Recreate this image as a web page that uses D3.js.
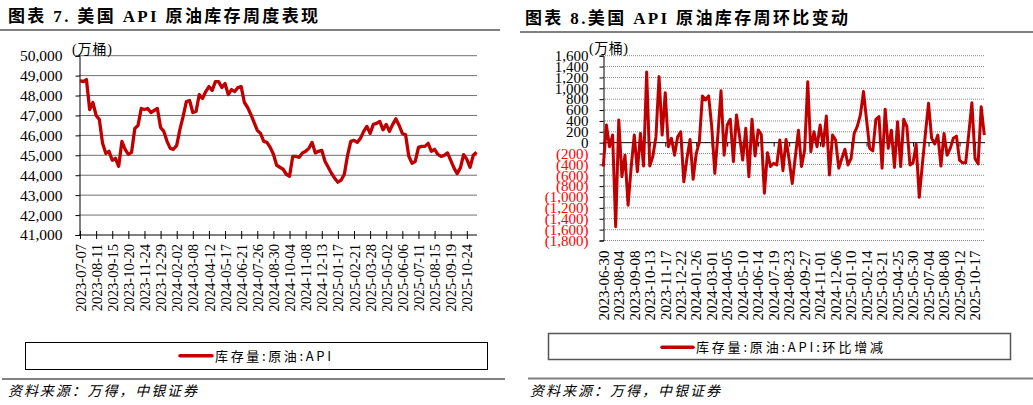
<!DOCTYPE html>
<html><head><meta charset="utf-8">
<script src="https://cdn.jsdelivr.net/npm/d3@7"></script>
<style>
body{margin:0;background:#fff;}
svg{display:block;}
</style></head><body>
<svg id="c" width="1033" height="405"></svg>
<script>
// ---------- data ----------
const leftStart = "2023-07-07";
const rightStart = "2023-06-30";
// 库存量:原油:API (万桶), weekly
const inventory = [
48750,48700,48800,47300,47650,47000,46800,45600,45100,45200,
44750,44850,44450,45700,45300,45050,45150,46350,46500,47350,
47300,47350,47150,47250,47350,46400,46200,45700,45350,45300,
45500,46300,46950,47700,47750,47150,47200,48050,47850,48200,
48450,48250,48700,48700,48400,48600,48050,48300,48200,48400,
48450,47650,47400,47050,46650,46250,46100,45700,45650,45400,
45050,44500,44400,44300,44050,43950,44950,44950,44900,45120,
45200,45350,45650,45120,45200,45250,44700,44400,44100,43850,
43650,43750,44050,45000,45700,45750,45650,45850,46200,46450,
46100,46550,46600,46700,46280,46550,46200,46550,46830,46500,
46100,46030,44950,44600,44700,45400,45450,45450,45600,45200,
45300,45050,44950,45000,45120,44750,44370,44080,44370,45030,
44800,44400,45000,45150
];
// 库存量:原油:API:环比增减 (万桶), weekly
const weeklyChange = [
-440,325,-75,140,-1545,415,-625,-230,-1150,-450,
140,-535,170,-430,1300,-430,-250,110,1215,140,
920,-75,80,-230,110,200,-720,-290,60,-675,
-200,10,860,785,860,300,-565,150,955,-230,
325,430,-350,510,110,-320,265,-625,430,-245,
235,150,-930,-185,-440,-380,-410,50,-515,60,
-320,-750,-260,230,-440,-135,1120,-165,200,-75,
325,-60,490,-595,140,50,-470,-290,-120,-410,
-290,170,300,510,940,415,-105,-150,430,480,
-470,615,-105,230,-455,385,-440,430,295,-410,
-370,-30,-1005,-400,170,725,80,-25,140,-430,
170,-230,-105,80,120,-320,-370,-370,170,735,
-290,-390,660,140
];
const leftTickLabels = ["2023-07-07","2023-08-11","2023-09-15","2023-10-20","2023-11-24","2023-12-29",
"2024-02-02","2024-03-08","2024-04-12","2024-05-17","2024-06-21","2024-07-26","2024-08-30",
"2024-10-04","2024-11-08","2024-12-13","2025-01-17","2025-02-21","2025-03-28","2025-05-02",
"2025-06-06","2025-07-11","2025-08-15","2025-09-19","2025-10-24"];
const rightTickLabels = ["2023-06-30","2023-08-04","2023-09-08","2023-10-13","2023-11-17","2023-12-22",
"2024-01-26","2024-03-01","2024-04-05","2024-05-10","2024-06-14","2024-07-19","2024-08-23",
"2024-09-27","2024-11-01","2024-12-06","2025-01-10","2025-02-14","2025-03-21","2025-04-25",
"2025-05-30","2025-07-04","2025-08-08","2025-09-12","2025-10-17"];
const leftYTicks = [41000,42000,43000,44000,45000,46000,47000,48000,49000,50000];
const rightYTicks = [-1800,-1600,-1400,-1200,-1000,-800,-600,-400,-200,0,200,400,600,800,1000,1200,1400,1600];

const leftTitle = "图表 7. 美国 API 原油库存周度表现";
const rightTitle = "图表 8.美国 API 原油库存周环比变动";
const unitLabel = "(万桶)";
const leftLegend = "库存量:原油:API";
const rightLegend = "库存量:原油:API:环比增减";
const sourceText = "资料来源：万得，中银证券";

// ---------- setup ----------
const FONT = "'Liberation Serif','Noto Sans CJK SC',serif";
const CJK = "'Noto Sans CJK SC',sans-serif";
const RED = "#C00000";
const svg = d3.select("#c");
const parse = d3.timeParse("%Y-%m-%d");
const leftDates = inventory.map((_, i) => d3.timeDay.offset(parse(leftStart), 7 * i));
const rightDates = weeklyChange.map((_, i) => d3.timeDay.offset(parse(rightStart), 7 * i));

// titles
function title(x, y, txt, len) {
  svg.append("text").attr("x", x).attr("y", y).attr("font-family", FONT)
    .attr("font-weight", "bold").attr("font-size", 17).attr("fill", "#000")
    .attr("textLength", len).attr("lengthAdjust", "spacing").text(txt);
}
title(8, 21.5, leftTitle, 310);
title(525, 23.5, rightTitle, 323);
svg.append("line").attr("x1", 0).attr("x2", 500).attr("y1", 30).attr("y2", 30).attr("stroke", "#808080").attr("stroke-width", 2);
svg.append("line").attr("x1", 520).attr("x2", 1033).attr("y1", 32).attr("y2", 32).attr("stroke", "#808080").attr("stroke-width", 2);

// ---------- left chart ----------
{
  const x = d3.scaleTime().domain([leftDates[0], leftDates[leftDates.length - 1]]).range([80, 476.5]);
  const y = d3.scaleLinear().domain([41000, 50000]).range([235, 55.7]);
  const g = svg.append("g");
  const fmt = d3.format(",");
  // grid
  g.selectAll("line.grid").data(leftYTicks.filter(t => t !== 41000)).join("line")
    .attr("x1", 79).attr("x2", 477).attr("y1", d => y(d)).attr("y2", d => y(d))
    .attr("stroke", "#707070").attr("stroke-width", 1);
  // y axis
  const ya = d3.axisLeft(y).tickValues(leftYTicks).tickSize(4).tickFormat(fmt);
  const yg = g.append("g").attr("transform", "translate(79.5,0)").call(ya);
  yg.select(".domain").attr("stroke", "#000");
  yg.selectAll(".tick line").attr("stroke", "#000");
  yg.selectAll(".tick text").attr("font-family", FONT).attr("font-size", 15.5).attr("fill", "#000").attr("x", -17);
  // x axis
  const xa = d3.axisBottom(x).tickValues(leftTickLabels.map(parse)).tickSize(4).tickFormat(d3.timeFormat("%Y-%m-%d"));
  const xg = g.append("g").attr("transform", "translate(0,235)").call(xa);
  xg.select(".domain").attr("d", "M79,0H477").attr("stroke", "#000");
  xg.selectAll(".tick line").attr("y1", -4).attr("y2", 4).attr("stroke", "#000");
  xg.selectAll(".tick text").attr("font-family", FONT).attr("font-size", 14.5).attr("fill", "#000")
    .attr("text-anchor", "end").attr("transform", "rotate(-90)").attr("x", -9).attr("y", 0).attr("dy", "0.35em");
  // unit
  g.append("text").attr("x", 72).attr("y", 53.5).attr("font-family", FONT).attr("font-size", 14)
    .attr("textLength", 40).attr("lengthAdjust", "spacing").text(unitLabel);
  // line
  g.append("path").datum(inventory)
    .attr("d", d3.line().x((d, i) => x(leftDates[i])).y(d => y(d)))
    .attr("fill", "none").attr("stroke", RED).attr("stroke-width", 3.3).attr("stroke-linejoin", "round");
  // legend
  g.append("rect").attr("x", 25.5).attr("y", 342.5).attr("width", 462).attr("height", 27)
    .attr("fill", "none").attr("stroke", "#000").attr("stroke-width", 1);
  g.append("line").attr("x1", 180).attr("x2", 212).attr("y1", 355.7).attr("y2", 355.7)
    .attr("stroke", RED).attr("stroke-width", 3.5).attr("stroke-linecap", "round");
  g.append("text").attr("x", 215).attr("y", 360.5).attr("font-family", CJK).attr("font-size", 13)
    .attr("textLength", 116).attr("lengthAdjust", "spacing").text(leftLegend);
  // footer
  g.append("line").attr("x1", 2).attr("x2", 505).attr("y1", 379).attr("y2", 379).attr("stroke", "#808080").attr("stroke-width", 2);
  g.append("text").attr("x", 8).attr("y", 396).attr("font-family", CJK).attr("font-size", 14).attr("font-style", "italic")
    .attr("textLength", 189).attr("lengthAdjust", "spacing").text(sourceText);
}

// ---------- right chart ----------
{
  const x = d3.scaleTime().domain([rightDates[0], rightDates[rightDates.length - 1]]).range([603.3, 984.3]);
  const y = d3.scaleLinear().domain([-1800, 1600]).range([240.5, 55.7]);
  const g = svg.append("g");
  const fmt = d => d < 0 ? "(" + d3.format(",")(-d) + ")" : d3.format(",")(d);
  // grid
  g.selectAll("line.grid").data(rightYTicks.filter(t => t !== 0)).join("line")
    .attr("x1", 603).attr("x2", 985).attr("y1", d => y(d)).attr("y2", d => y(d))
    .attr("stroke", "#888").attr("stroke-width", 1).attr("stroke-dasharray", "1,1");
  // y axis
  const ya = d3.axisLeft(y).tickValues(rightYTicks).tickSize(4).tickFormat(fmt);
  const yg = g.append("g").attr("transform", "translate(603.5,0)").call(ya);
  yg.select(".domain").attr("stroke", "#000");
  yg.selectAll(".tick line").attr("stroke", "#000");
  yg.selectAll(".tick text").attr("font-family", FONT).attr("font-size", 15).attr("x", -15)
    .attr("fill", d => d < 0 ? "#FF0000" : "#000");
  // zero line + ticks
  const xa = d3.axisBottom(x).tickValues(rightTickLabels.map(parse)).tickSize(4).tickFormat("");
  const zg = g.append("g").attr("transform", `translate(0,${y(0)})`).call(xa);
  zg.select(".domain").attr("d", "M603,0H985").attr("stroke", "#000");
  zg.selectAll(".tick line").attr("stroke", "#000");
  // bottom labels
  const lg = g.append("g").attr("transform", "translate(0,240.5)");
  lg.selectAll("text").data(rightTickLabels).join("text")
    .attr("transform", d => `translate(${x(parse(d))},0) rotate(-90)`)
    .attr("x", -10).attr("dy", "0.35em").attr("text-anchor", "end")
    .attr("font-family", FONT).attr("font-size", 15).attr("fill", "#000").text(d => d);
  // unit
  g.append("text").attr("x", 589).attr("y", 53).attr("font-family", FONT).attr("font-size", 14)
    .attr("textLength", 39).attr("lengthAdjust", "spacing").text(unitLabel);
  // line
  g.append("path").datum(weeklyChange)
    .attr("d", d3.line().x((d, i) => x(rightDates[i])).y(d => y(d)))
    .attr("fill", "none").attr("stroke", RED).attr("stroke-width", 3).attr("stroke-linejoin", "round");
  // legend
  g.append("rect").attr("x", 548.5).attr("y", 333.5).attr("width", 462).attr("height", 26)
    .attr("fill", "none").attr("stroke", "#555").attr("stroke-width", 1.5);
  g.append("line").attr("x1", 662).attr("x2", 693).attr("y1", 347.3).attr("y2", 347.3)
    .attr("stroke", RED).attr("stroke-width", 3.5).attr("stroke-linecap", "round");
  g.append("text").attr("x", 696).attr("y", 352).attr("font-family", CJK).attr("font-size", 13)
    .attr("textLength", 187).attr("lengthAdjust", "spacing").text(rightLegend);
  // footer
  g.append("line").attr("x1", 528).attr("x2", 1033).attr("y1", 378.5).attr("y2", 378.5).attr("stroke", "#808080").attr("stroke-width", 2);
  g.append("text").attr("x", 530).attr("y", 396).attr("font-family", CJK).attr("font-size", 14).attr("font-style", "italic")
    .attr("textLength", 190).attr("lengthAdjust", "spacing").text(sourceText);
}
</script>
</body></html>
